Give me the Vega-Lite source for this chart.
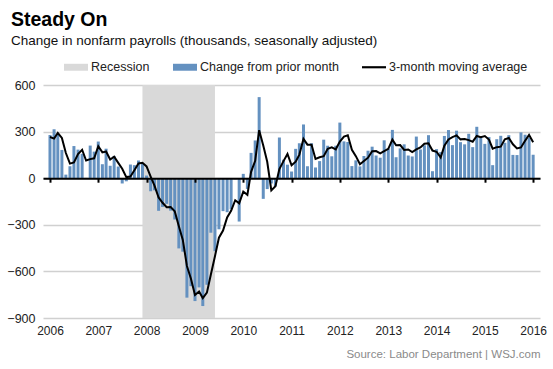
{
  "$schema": "https://vega.github.io/schema/vega-lite/v6.json",
  "width": 497,
  "height": 233,
  "autosize": "none",
  "padding": {"left": 43, "top": 85, "right": 13, "bottom": 51},
  "background": "white",
  "config": {
    "font": "Liberation Sans",
    "view": {"stroke": null}
  },
  "title": {
    "text": "Steady On",
    "subtitle": "Change in nonfarm payrolls (thousands, seasonally adjusted)",
    "anchor": "start",
    "frame": "group",
    "dx": -32,
    "fontSize": 19.5,
    "fontWeight": "bold",
    "color": "#000000",
    "subtitleFontSize": 13.5,
    "subtitleColor": "#111111",
    "subtitlePadding": 3,
    "offset": 7
  },
  "datasets": {
    "rec": [{"start": "2007-12-01", "end": "2009-06-01"}],
    "jobs": [
      {"d":"2006-01-01","v":278,"ma":265},{"d":"2006-02-01","v":315,"ma":255},{"d":"2006-03-01","v":281,"ma":291},{"d":"2006-04-01","v":182,"ma":259},{"d":"2006-05-01","v":23,"ma":162},{"d":"2006-06-01","v":77,"ma":94},{"d":"2006-07-01","v":207,"ma":102},{"d":"2006-08-01","v":184,"ma":156},{"d":"2006-09-01","v":157,"ma":183},{"d":"2006-10-01","v":2,"ma":114},{"d":"2006-11-01","v":210,"ma":123},{"d":"2006-12-01","v":171,"ma":128},
      {"d":"2007-01-01","v":236,"ma":206},{"d":"2007-02-01","v":90,"ma":166},{"d":"2007-03-01","v":190,"ma":172},{"d":"2007-04-01","v":80,"ma":120},{"d":"2007-05-01","v":143,"ma":138},{"d":"2007-06-01","v":75,"ma":99},{"d":"2007-07-01","v":-34,"ma":61},{"d":"2007-08-01","v":-20,"ma":7},{"d":"2007-09-01","v":88,"ma":11},{"d":"2007-10-01","v":84,"ma":51},{"d":"2007-11-01","v":114,"ma":95},{"d":"2007-12-01","v":98,"ma":99},
      {"d":"2008-01-01","v":17,"ma":76},{"d":"2008-02-01","v":-84,"ma":10},{"d":"2008-03-01","v":-78,"ma":-48},{"d":"2008-04-01","v":-210,"ma":-124},{"d":"2008-05-01","v":-185,"ma":-158},{"d":"2008-06-01","v":-165,"ma":-187},{"d":"2008-07-01","v":-209,"ma":-186},{"d":"2008-08-01","v":-266,"ma":-213},{"d":"2008-09-01","v":-452,"ma":-309},{"d":"2008-10-01","v":-473,"ma":-397},{"d":"2008-11-01","v":-769,"ma":-565},{"d":"2008-12-01","v":-695,"ma":-646},
      {"d":"2009-01-01","v":-791,"ma":-752},{"d":"2009-02-01","v":-703,"ma":-730},{"d":"2009-03-01","v":-823,"ma":-772},{"d":"2009-04-01","v":-686,"ma":-737},{"d":"2009-05-01","v":-351,"ma":-620},{"d":"2009-06-01","v":-470,"ma":-502},{"d":"2009-07-01","v":-329,"ma":-383},{"d":"2009-08-01","v":-212,"ma":-337},{"d":"2009-09-01","v":-219,"ma":-253},{"d":"2009-10-01","v":-200,"ma":-210},{"d":"2009-11-01","v":-7,"ma":-142},{"d":"2009-12-01","v":-279,"ma":-162},
      {"d":"2010-01-01","v":28,"ma":-86},{"d":"2010-02-01","v":-69,"ma":-107},{"d":"2010-03-01","v":163,"ma":41},{"d":"2010-04-01","v":243,"ma":112},{"d":"2010-05-01","v":522,"ma":309},{"d":"2010-06-01","v":-133,"ma":211},{"d":"2010-07-01","v":-70,"ma":106},{"d":"2010-08-01","v":-34,"ma":-79},{"d":"2010-09-01","v":-52,"ma":-52},{"d":"2010-10-01","v":262,"ma":59},{"d":"2010-11-01","v":119,"ma":110},{"d":"2010-12-01","v":87,"ma":156},
      {"d":"2011-01-01","v":43,"ma":83},{"d":"2011-02-01","v":189,"ma":106},{"d":"2011-03-01","v":225,"ma":152},{"d":"2011-04-01","v":346,"ma":253},{"d":"2011-05-01","v":77,"ma":216},{"d":"2011-06-01","v":225,"ma":216},{"d":"2011-07-01","v":69,"ma":124},{"d":"2011-08-01","v":110,"ma":135},{"d":"2011-09-01","v":248,"ma":142},{"d":"2011-10-01","v":209,"ma":189},{"d":"2011-11-01","v":141,"ma":199},{"d":"2011-12-01","v":209,"ma":186},
      {"d":"2012-01-01","v":358,"ma":236},{"d":"2012-02-01","v":237,"ma":268},{"d":"2012-03-01","v":233,"ma":276},{"d":"2012-04-01","v":78,"ma":183},{"d":"2012-05-01","v":115,"ma":142},{"d":"2012-06-01","v":76,"ma":90},{"d":"2012-07-01","v":143,"ma":111},{"d":"2012-08-01","v":177,"ma":132},{"d":"2012-09-01","v":203,"ma":174},{"d":"2012-10-01","v":146,"ma":175},{"d":"2012-11-01","v":132,"ma":160},{"d":"2012-12-01","v":244,"ma":174},
      {"d":"2013-01-01","v":190,"ma":189},{"d":"2013-02-01","v":311,"ma":248},{"d":"2013-03-01","v":135,"ma":212},{"d":"2013-04-01","v":192,"ma":213},{"d":"2013-05-01","v":218,"ma":182},{"d":"2013-06-01","v":146,"ma":185},{"d":"2013-07-01","v":140,"ma":168},{"d":"2013-08-01","v":268,"ma":185},{"d":"2013-09-01","v":185,"ma":198},{"d":"2013-10-01","v":212,"ma":222},{"d":"2013-11-01","v":277,"ma":225},{"d":"2013-12-01","v":45,"ma":178},
      {"d":"2014-01-01","v":187,"ma":170},{"d":"2014-02-01","v":168,"ma":133},{"d":"2014-03-01","v":272,"ma":209},{"d":"2014-04-01","v":310,"ma":250},{"d":"2014-05-01","v":213,"ma":265},{"d":"2014-06-01","v":306,"ma":276},{"d":"2014-07-01","v":232,"ma":250},{"d":"2014-08-01","v":218,"ma":252},{"d":"2014-09-01","v":286,"ma":245},{"d":"2014-10-01","v":200,"ma":235},{"d":"2014-11-01","v":331,"ma":272},{"d":"2014-12-01","v":261,"ma":264},
      {"d":"2015-01-01","v":221,"ma":271},{"d":"2015-02-01","v":265,"ma":249},{"d":"2015-03-01","v":84,"ma":190},{"d":"2015-04-01","v":251,"ma":200},{"d":"2015-05-01","v":273,"ma":203},{"d":"2015-06-01","v":228,"ma":251},{"d":"2015-07-01","v":277,"ma":259},{"d":"2015-08-01","v":150,"ma":218},{"d":"2015-09-01","v":149,"ma":192},{"d":"2015-10-01","v":295,"ma":198},{"d":"2015-11-01","v":280,"ma":241},{"d":"2015-12-01","v":262,"ma":279},
      {"d":"2016-01-01","v":151,"ma":231}
    ]
  },
  "resolve": {"axis": {"x": "independent"}},
  "layer": [
    {
      "data": {"name": "rec"},
      "mark": {"type": "rect"},
      "encoding": {
        "x": {
          "field": "start", "type": "temporal",
          "scale": {"type": "utc", "domain": [{"year": 2005, "month": 12, "date": 17, "utc": true}, {"year": 2016, "month": 1, "date": 15, "utc": true}]},
          "axis": {
            "orient": "bottom",
            "values": [{"year":2006,"utc":true},{"year":2007,"utc":true},{"year":2008,"utc":true},{"year":2009,"utc":true},{"year":2010,"utc":true},{"year":2011,"utc":true},{"year":2012,"utc":true},{"year":2013,"utc":true},{"year":2014,"utc":true},{"year":2015,"utc":true},{"year":2016,"utc":true}],
            "format": "%Y",
            "domain": false,
            "ticks": false,
            "grid": false,
            "labelPadding": 7,
            "labelFontSize": 12,
            "labelColor": "#222222",
            "labelFlush": false,
            "labelOverlap": false,
            "title": "Source: Labor Department  |  WSJ.com",
            "titleAnchor": "end",
            "titleAlign": "right",
            "titleFontWeight": "normal",
            "titleFontSize": 11.5,
            "titleColor": "#8a8a8a",
            "titlePadding": 12
          }
        },
        "x2": {"field": "end"},
        "y": {"datum": 600, "type": "quantitative"},
        "y2": {"datum": -900},
        "color": {
          "datum": "Recession",
          "type": "nominal",
          "scale": {"domain": ["Recession", "Change from prior month", "3-month moving average"], "range": ["#d9d9d9", "#6491c0", "#000000"]},
          "legend": {
            "title": null,
            "orient": "none",
            "direction": "horizontal",
            "columns": 3,
            "legendX": 21,
            "legendY": -30,
            "padding": 0,
            "columnPadding": 23,
            "symbolType": "M-1,-0.29H1V0.29H-1Z",
            "symbolSize": 576,
            "symbolStrokeWidth": 0,
            "labelFontSize": 12.5,
            "labelColor": "#222222",
            "labelOffset": 3,
            "labelLimit": 300,
            "encode": {
              "symbols": {
                "update": {
                  "shape": [{"test": "datum.value === '3-month moving average'", "value": "M-1,-0.09H1V0.09H-1Z"}, {"value": "M-1,-0.29H1V0.29H-1Z"}],
                  "fill": {"scale": "color", "field": "value"},
                  "stroke": {"value": "transparent"},
                  "opacity": {"value": 1}
                }
              }
            }
          }
        }
      }
    },
    {
      "data": {"name": "jobs"},
      "mark": {"type": "bar", "width": 3},
      "encoding": {
        "x": {
          "field": "d", "type": "temporal",
          "axis": {
            "orient": "bottom",
            "values": [{"year":2006,"utc":true},{"year":2007,"utc":true},{"year":2008,"utc":true},{"year":2009,"utc":true},{"year":2010,"utc":true},{"year":2011,"utc":true},{"year":2012,"utc":true},{"year":2013,"utc":true},{"year":2014,"utc":true},{"year":2015,"utc":true},{"year":2016,"utc":true}],
            "labels": false,
            "title": null,
            "grid": false,
            "domain": true,
            "domainColor": "#000000",
            "domainWidth": 2,
            "ticks": true,
            "tickColor": "#000000",
            "tickWidth": 2,
            "tickSize": 4,
            "offset": -139.8,
            "zindex": 1
          }
        },
        "y": {
          "field": "v", "type": "quantitative",
          "scale": {"domain": [-900, 600], "nice": false},
          "axis": {
            "values": [-900, -600, -300, 0, 300, 600],
            "title": null,
            "domain": false,
            "ticks": false,
            "grid": true,
            "gridColor": "#d0d0d0",
            "gridWidth": 1.5,
            "labelPadding": 8,
            "labelFontSize": 12.5,
            "labelColor": "#222222"
          }
        },
        "color": {"datum": "Change from prior month", "type": "nominal"}
      }
    },
    {
      "data": {"name": "jobs"},
      "mark": {"type": "line", "strokeWidth": 2},
      "encoding": {
        "x": {"field": "d", "type": "temporal", "axis": null},
        "y": {"field": "ma", "type": "quantitative"},
        "color": {"datum": "3-month moving average", "type": "nominal"}
      }
    }
  ]
}
